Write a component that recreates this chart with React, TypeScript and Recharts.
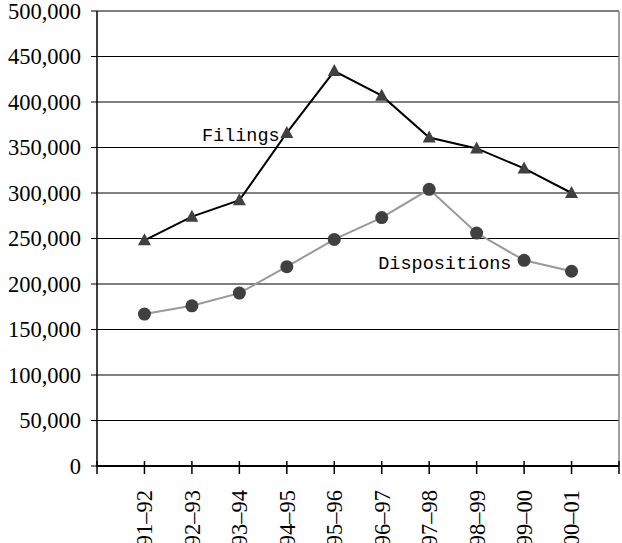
import { LineChart, Line, XAxis, YAxis, CartesianGrid, ReferenceLine, ReferenceDot } from 'recharts'

const periods = ['91–92', '92–93', '93–94', '94–95', '95–96', '96–97', '97–98', '98–99', '99–00', '00–01']
const filings = [248000, 274000, 292000, 366000, 434000, 407000, 361000, 349000, 327000, 300000]
const dispositions = [167000, 176000, 190000, 219000, 249000, 273000, 304000, 256000, 226000, 214000]
const yTicks = [0, 50000, 100000, 150000, 200000, 250000, 300000, 350000, 400000, 450000, 500000]
const xTicks = [0, 1, 2, 3, 4, 5, 6, 7, 8, 9, 10, 11]

const data = periods.map((p, i) => ({
  pos: i + 1,
  period: p,
  filings: filings[i],
  dispositions: dispositions[i],
}))

const serif = 'Liberation Serif'
const mono = 'Liberation Mono'

const XTick = ({ x, y, payload }: any) => {
  const label = periods[payload.value - 1]
  const ty = y + 24
  return (
    <g>
      <line x1={x} x2={x} y1={y - 5} y2={y + 8} stroke="#000" strokeWidth={1.5} />
      {label && (
        <text
          x={x}
          y={ty}
          dy="0.35em"
          transform={`rotate(-90 ${x} ${ty})`}
          textAnchor="end"
          fill="#000"
          fontSize={22.5}
          fontFamily={serif}
          style={{ fontFamily: serif }}
        >
          {label}
        </text>
      )}
    </g>
  )
}

const TriangleDot = ({ cx, cy, index }: any) => (
  <path
    key={`tri-${index}`}
    d={`M${cx},${cy - 7} L${cx + 6.5},${cy + 5} L${cx - 6.5},${cy + 5} Z`}
    fill="#404040"
  />
)

const CircleDot = ({ cx, cy, index }: any) => (
  <circle key={`dot-${index}`} cx={cx} cy={cy} r={6.5} fill="#404040" />
)

export default function App() {
  return (
    <div style={{ width: 622, height: 543, background: '#fff', fontFamily: serif }}>
      <style>{`body{margin:0}`}</style>
      <LineChart
        width={622}
        height={543}
        data={data}
        margin={{ top: 11, right: 3, left: 0, bottom: 0 }}
        style={{ fontFamily: serif }}
      >
        <CartesianGrid vertical={false} stroke="#000" strokeWidth={1} />
        <XAxis
          type="number"
          dataKey="pos"
          domain={[0, 11]}
          ticks={xTicks}
          interval={0}
          height={77}
          tickSize={0}
          tickMargin={0}
          tickLine={false}
          axisLine={{ stroke: '#000', strokeWidth: 2 }}
          tick={<XTick />}
        />
        <YAxis
          domain={[0, 500000]}
          ticks={yTicks}
          interval={0}
          width={97}
          tickSize={6}
          tickMargin={10}
          axisLine={{ stroke: '#000', strokeWidth: 1.5 }}
          tickLine={{ stroke: '#000' }}
          tick={{ fill: '#000', fontSize: 22.5, fontFamily: serif }}
          tickFormatter={(v: number) => v.toLocaleString('en-US')}
        />
        <ReferenceLine x={11} stroke="#808080" strokeWidth={1.5} />
        <ReferenceLine y={500000} stroke="#808080" strokeWidth={1.5} />
        <Line
          dataKey="dispositions"
          stroke="#999999"
          strokeWidth={2}
          dot={CircleDot}
          activeDot={false}
          isAnimationActive={false}
        />
        <Line
          dataKey="filings"
          stroke="#000"
          strokeWidth={2}
          dot={TriangleDot}
          activeDot={false}
          isAnimationActive={false}
        />
        <ReferenceDot
          x={3.03}
          y={364000}
          r={0}
          fill="none"
          stroke="none"
          label={{ value: 'Filings', position: 'center', fill: '#000', fontSize: 18.5, fontFamily: mono }}
        />
        <ReferenceDot
          x={7.33}
          y={224000}
          r={0}
          fill="none"
          stroke="none"
          label={{ value: 'Dispositions', position: 'center', fill: '#000', fontSize: 18.5, fontFamily: mono }}
        />
      </LineChart>
    </div>
  )
}
